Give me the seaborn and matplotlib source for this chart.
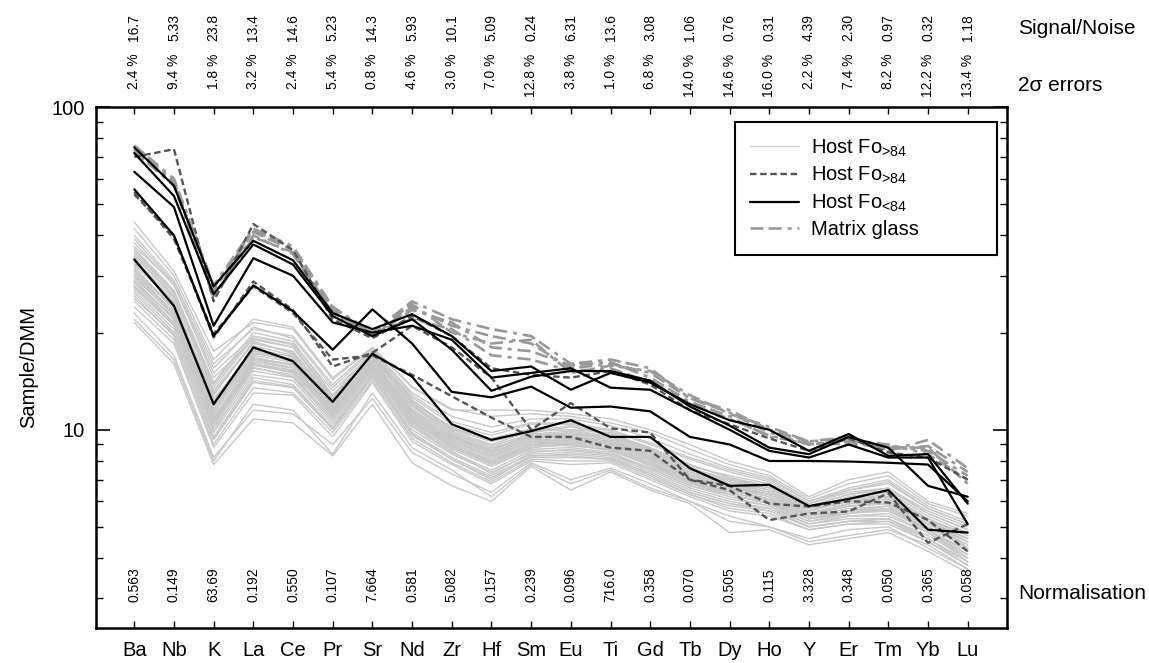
import numpy as np
import pandas as pd
import matplotlib
matplotlib.use("Agg")
import matplotlib.pyplot as plt
import seaborn as sns
from matplotlib.lines import Line2D
from matplotlib.ticker import LogLocator, NullFormatter

# ---- element order and annotation rows ----
elements = ["Ba", "Nb", "K", "La", "Ce", "Pr", "Sr", "Nd", "Zr", "Hf", "Sm",
            "Eu", "Ti", "Gd", "Tb", "Dy", "Ho", "Y", "Er", "Tm", "Yb", "Lu"]
err_2sigma = ["2.4", "9.4", "1.8", "3.2", "2.4", "5.4", "0.8", "4.6", "3.0", "7.0", "12.8",
              "3.8", "1.0", "6.8", "14.0", "14.6", "16.0", "2.2", "7.4", "8.2", "12.2", "13.4"]
signal_noise = ["16.7", "5.33", "23.8", "13.4", "14.6", "5.23", "14.3", "5.93", "10.1", "5.09", "0.24",
                "6.31", "13.6", "3.08", "1.06", "0.76", "0.31", "4.39", "2.30", "0.97", "0.32", "1.18"]
normalisation = ["0.563", "0.149", "63.69", "0.192", "0.550", "0.107", "7.664", "0.581", "5.082",
                 "0.157", "0.239", "0.096", "716.0", "0.358", "0.070", "0.505", "0.115", "3.328",
                 "0.348", "0.050", "0.365", "0.058"]

# ---- DMM-normalised melt inclusion compositions ----
host_fo_high = [
    [44, 31, 17.5, 21.5, 20.5, 14.3, 18, 13.5, 11.5, 11.5, 11.5, 11.2, 10.8, 10.0, 9.0, 8.0, 7.4, 6.2, 7.0, 7.4, 6.0, 5.5],
    [21.5, 16, 7.8, 10.8, 10.5, 8.3, 12, 7.9, 6.7, 6.0, 7.7, 6.5, 7.4, 6.5, 5.9, 4.8, 4.9, 4.4, 4.6, 4.8, 4.2, 3.6],
    [38, 28, 15, 19.5, 18.5, 13.2, 17.2, 12.6, 10.4, 9.6, 10.4, 10.4, 9.9, 9.0, 8.1, 7.4, 6.9, 5.9, 6.4, 6.6, 5.6, 5.0],
    [35, 26, 13, 18.5, 17.5, 12.4, 16.8, 12.0, 9.9, 9.0, 9.9, 10.0, 9.5, 8.6, 7.6, 7.0, 6.6, 5.7, 6.1, 6.3, 5.3, 4.7],
    [33, 25, 12.3, 17.8, 16.8, 12.0, 16.4, 11.6, 9.6, 8.6, 9.6, 9.7, 9.3, 8.4, 7.4, 6.8, 6.4, 5.6, 6.0, 6.1, 5.2, 4.5],
    [31.5, 24, 11.5, 17, 16.2, 11.6, 16.0, 11.2, 9.3, 8.3, 9.3, 9.4, 9.0, 8.1, 7.1, 6.6, 6.2, 5.5, 5.8, 5.9, 5.1, 4.4],
    [30, 22.5, 10.8, 16.2, 15.5, 11.2, 15.6, 10.8, 9.0, 8.0, 9.0, 9.1, 8.8, 7.9, 6.9, 6.4, 6.0, 5.3, 5.6, 5.7, 4.9, 4.2],
    [28.5, 21.5, 10.2, 15.5, 14.8, 10.8, 15.2, 10.4, 8.7, 7.7, 8.7, 8.8, 8.5, 7.6, 6.7, 6.2, 5.8, 5.2, 5.4, 5.5, 4.8, 4.1],
    [27, 20.5, 9.8, 14.8, 14.2, 10.4, 14.8, 10.0, 8.4, 7.4, 8.4, 8.5, 8.3, 7.4, 6.5, 6.0, 5.7, 5.1, 5.3, 5.3, 4.7, 4.0],
    [26, 19.5, 9.3, 14.0, 13.5, 10.0, 14.5, 9.6, 8.1, 7.1, 8.2, 8.2, 8.1, 7.2, 6.3, 5.8, 5.6, 5.0, 5.2, 5.2, 4.6, 3.9],
    [36.5, 27, 14, 20, 18.8, 12.8, 17.5, 12.4, 10.0, 9.4, 10.0, 10.6, 9.6, 8.8, 7.8, 7.1, 6.6, 5.8, 6.3, 6.6, 5.5, 4.9],
    [34, 24.5, 12.8, 18.8, 17.2, 12.2, 16.2, 11.8, 9.7, 8.8, 9.5, 9.8, 9.4, 8.5, 7.5, 6.9, 6.5, 5.6, 6.1, 6.2, 5.3, 4.6],
    [32, 23.5, 11.8, 17.5, 16.5, 11.8, 16.6, 11.4, 9.4, 8.5, 9.4, 9.6, 9.1, 8.2, 7.3, 6.7, 6.3, 5.5, 5.9, 6.0, 5.1, 4.5],
    [30.5, 23, 11.2, 16.8, 15.8, 11.4, 15.9, 11.0, 9.2, 8.2, 9.2, 9.3, 8.9, 8.0, 7.0, 6.5, 6.1, 5.4, 5.7, 5.8, 5.0, 4.3],
    [29, 22, 10.5, 15.8, 15.2, 11.0, 15.4, 10.6, 8.8, 7.8, 8.8, 9.0, 8.6, 7.8, 6.8, 6.3, 5.9, 5.3, 5.5, 5.6, 4.9, 4.2],
    [27.5, 21, 10.0, 15.2, 14.5, 10.6, 15.0, 10.2, 8.5, 7.5, 8.6, 8.6, 8.4, 7.5, 6.6, 6.1, 5.8, 5.1, 5.4, 5.4, 4.8, 4.0],
    [40, 29, 16, 20.5, 19.5, 13.8, 17.8, 13.0, 11.0, 10.2, 10.8, 10.8, 10.3, 9.4, 8.4, 7.6, 7.1, 6.0, 6.6, 7.0, 5.8, 5.2],
    [24, 18.5, 8.8, 13.0, 12.8, 9.5, 14.0, 9.2, 7.8, 6.8, 8.0, 7.8, 7.9, 7.0, 6.2, 5.6, 5.4, 4.9, 5.1, 5.1, 4.5, 3.8],
    [23, 17, 8.2, 11.5, 11.2, 9.0, 12.5, 8.5, 7.3, 6.4, 7.9, 7.0, 7.6, 6.8, 6.0, 5.2, 5.0, 4.6, 4.9, 5.0, 4.3, 3.7],
    [22, 16.5, 8.0, 12, 11.5, 8.4, 13, 8.8, 7.5, 6.2, 7.8, 6.8, 7.5, 6.6, 6.0, 5.4, 5.0, 4.5, 4.7, 4.9, 4.4, 3.7],
    [33.5, 25.5, 12.0, 18.2, 17.0, 11.8, 16.0, 11.0, 9.5, 8.6, 9.8, 9.5, 9.2, 8.3, 7.2, 6.6, 6.3, 5.6, 6.2, 6.4, 5.2, 4.8],
    [31, 23, 10.5, 16.6, 16.0, 11.5, 15.5, 10.9, 9.0, 8.0, 9.0, 9.2, 9.1, 8.1, 7.2, 6.6, 6.0, 5.5, 5.9, 6.1, 5.2, 4.3],
    [29.5, 22.8, 11.0, 16.0, 15.3, 11.0, 15.8, 10.5, 8.9, 7.9, 9.0, 8.9, 8.7, 7.7, 6.8, 6.5, 6.1, 5.3, 5.6, 5.8, 4.9, 4.1],
    [28, 21.2, 10.4, 15.6, 14.6, 10.8, 15.3, 10.3, 8.6, 7.3, 8.5, 8.7, 8.4, 7.6, 6.7, 6.3, 5.9, 5.2, 5.5, 5.7, 4.8, 3.9],
    [37, 28.5, 14.5, 19.0, 18.0, 12.7, 16.9, 12.1, 10.2, 9.2, 10.1, 10.0, 9.8, 8.7, 7.7, 7.2, 6.8, 5.9, 6.5, 6.8, 5.7, 5.1],
    [26.5, 20, 9.5, 14.5, 13.8, 10.2, 14.7, 9.8, 8.2, 7.2, 8.3, 8.4, 8.2, 7.3, 6.4, 5.9, 5.7, 5.0, 5.2, 5.3, 4.6, 3.8],
    [32.5, 24.8, 12.5, 17.2, 16.6, 11.7, 16.5, 11.3, 9.5, 8.5, 9.5, 9.6, 9.2, 8.3, 7.3, 6.8, 6.3, 5.5, 5.9, 6.0, 5.1, 4.6],
    [35.5, 26.5, 13.5, 19.2, 18.0, 12.5, 17.0, 12.2, 10.0, 9.2, 9.8, 10.2, 9.6, 8.7, 7.6, 7.0, 6.7, 5.7, 6.2, 6.4, 5.4, 4.8],
    [42, 30, 16.5, 22, 20.8, 14.5, 18.0, 13.6, 11.6, 11.0, 11.2, 11.0, 10.5, 9.8, 8.7, 7.8, 7.2, 6.1, 6.8, 7.2, 5.9, 5.4],
    [25, 19, 9.0, 13.5, 13.0, 9.8, 14.2, 9.4, 7.9, 6.9, 8.1, 8.0, 8.0, 7.1, 6.3, 5.7, 5.5, 4.9, 5.1, 5.2, 4.5, 3.8],
    [39, 28.5, 15.5, 20.8, 19.2, 13.5, 17.6, 12.8, 10.6, 9.8, 10.5, 10.5, 10.0, 9.1, 8.2, 7.5, 7.0, 6.0, 6.5, 6.9, 5.7, 5.1],
    [34.5, 25.8, 13.2, 18.6, 17.4, 12.3, 16.7, 11.9, 9.8, 8.9, 9.7, 9.9, 9.5, 8.6, 7.5, 7.0, 6.5, 5.7, 6.1, 6.2, 5.3, 4.7],
    [31, 23.8, 11.6, 17.3, 16.4, 11.7, 16.2, 11.3, 9.4, 8.4, 9.4, 9.5, 9.1, 8.2, 7.2, 6.7, 6.3, 5.5, 5.8, 6.0, 5.1, 4.5],
    [29, 22.2, 10.9, 16.4, 15.6, 11.3, 15.7, 10.9, 9.1, 8.1, 9.1, 9.2, 8.8, 7.9, 7.0, 6.5, 6.1, 5.4, 5.6, 5.8, 5.0, 4.3],
    [27.8, 21.4, 10.6, 15.9, 15.0, 11.1, 15.5, 10.7, 8.9, 7.9, 8.9, 9.0, 8.7, 7.8, 6.9, 6.4, 6.0, 5.3, 5.5, 5.7, 4.9, 4.2],
    [33, 24.5, 12.2, 17.6, 16.9, 12.0, 16.3, 11.5, 9.6, 8.7, 9.6, 9.8, 9.3, 8.4, 7.4, 6.9, 6.4, 5.6, 6.0, 6.2, 5.2, 4.6],
    [30, 23.2, 11.3, 16.5, 15.9, 11.5, 15.9, 11.1, 9.2, 8.3, 9.2, 9.3, 9.0, 8.1, 7.1, 6.6, 6.2, 5.4, 5.8, 5.9, 5.0, 4.4],
    [28.8, 22.0, 10.7, 16.0, 15.1, 11.2, 15.6, 10.6, 8.9, 7.8, 8.8, 9.1, 8.6, 7.8, 6.9, 6.3, 5.9, 5.3, 5.6, 5.6, 4.9, 4.0],
    [36, 26.8, 13.8, 19.5, 18.3, 12.6, 17.1, 12.3, 10.1, 9.3, 9.9, 10.3, 9.7, 8.8, 7.8, 7.1, 6.7, 5.8, 6.3, 6.5, 5.5, 4.9],
    [25.5, 19.8, 9.4, 14.2, 13.6, 10.1, 14.6, 9.7, 8.1, 7.0, 8.3, 8.3, 8.1, 7.3, 6.4, 5.9, 5.6, 5.0, 5.2, 5.3, 4.6, 3.9],
]

host_fo_high_he = [
    [70, 74, 25.0, 43.4, 36, 22, 19.2, 22.5, 19.5, 15.5, 14.8, 14.5, 15.2, 13.8, 11.5, 10.4, 9.4, 8.6, 9.4, 8.5, 8.2, 7.0],
    [53.6, 40, 19.3, 28.8, 23.5, 15.7, 17.3, 21.0, 18.0, 14.5, 10.0, 12.1, 10.1, 9.8, 7.0, 6.5, 5.25, 5.5, 5.58, 6.36, 4.46, 5.1],
    [54.5, 39, 19.8, 27.8, 23.0, 16.5, 17.0, 14.8, 12.7, 10.9, 9.5, 9.5, 8.8, 8.6, 7.0, 6.7, 5.9, 5.78, 6.0, 5.95, 5.25, 4.2],
]

host_fo_low = [
    [75, 57, 27.8, 38.5, 33.5, 23, 20.5, 22.8, 19.5, 15.2, 15.7, 13.3, 15.0, 14.0, 12.0, 10.7, 10.0, 8.6, 9.7, 8.3, 8.4, 5.9],
    [72, 53, 26.3, 37.5, 32.5, 22.5, 19.5, 22, 17.7, 13.2, 14.6, 15.2, 15.2, 14.2, 11.8, 10.3, 8.8, 8.4, 9.5, 8.8, 6.7, 6.2],
    [63, 49, 21, 34, 30, 21.5, 20.0, 21, 19.0, 14.5, 15.0, 15.5, 13.5, 13.3, 11.5, 10.0, 8.6, 8.2, 9.0, 8.2, 8.2, 5.1],
    [55.6, 40, 19.5, 28, 23.3, 17.7, 23.6, 18.5, 13.1, 12.6, 13.6, 11.7, 11.8, 11.4, 9.5, 9.0, 8.0, 8.0, 7.97, 7.9, 7.8, 6.0],
    [33.7, 24.2, 12.0, 18.0, 16.3, 12.2, 17.2, 14.6, 10.4, 9.3, 9.9, 10.7, 9.5, 9.5, 7.6, 6.7, 6.75, 5.8, 6.1, 6.5, 4.9, 4.8],
]

matrix_glass = [
    [76, 60, 28, 42, 37, 24, 20, 25, 22, 20.5, 19.5, 16, 16.5, 15.5, 12.5, 11.5, 10.0, 9.2, 9.4, 8.6, 9.3, 7.6],
    [74, 58, 27, 41, 36, 23.5, 19.5, 24, 21, 19.5, 18.5, 15.5, 16, 15, 12.5, 11.3, 9.8, 9.0, 9.2, 8.7, 8.9, 7.4],
    [73, 57, 26, 40, 35, 23, 19.5, 23.5, 21.5, 18, 17.5, 15.8, 16.2, 14.5, 12.2, 11.0, 9.5, 9.1, 9.0, 8.9, 8.6, 7.2],
    [75, 59, 25.5, 39.5, 35.5, 23, 20, 22, 20.5, 17, 16.5, 15.2, 15.5, 14, 12, 10.8, 9.6, 9.0, 9.3, 9.0, 8.4, 7.0],
    [74.5, 58.5, 27.5, 41.5, 36.5, 24, 19.8, 24.5, 20, 18.5, 19, 15, 15.8, 15.2, 12.8, 11.2, 10.2, 9.2, 9.5, 8.8, 8.8, 6.8],
]


def to_long(series, group):
    rows = []
    for k, vals in enumerate(series):
        for i, v in enumerate(vals):
            rows.append({"group": group, "sample": f"{group}-{k}", "pos": i, "value": v})
    return pd.DataFrame(rows)


df = pd.concat([
    to_long(host_fo_high, "fo_high"),
    to_long(matrix_glass, "glass"),
    to_long(host_fo_high_he, "fo_high_he"),
    to_long(host_fo_low, "fo_low"),
], ignore_index=True)

sns.set_theme(style="white")
plt.rcParams["font.family"] = ["Liberation Sans", "DejaVu Sans"]
plt.rcParams["mathtext.fontset"] = "custom"
plt.rcParams["mathtext.rm"] = "Liberation Sans"
plt.rcParams["mathtext.default"] = "regular"
plt.rcParams["lines.scale_dashes"] = False
for key in ("text.color", "axes.labelcolor", "xtick.color", "ytick.color"):
    plt.rcParams[key] = "black"

W, H = 1149, 663
fig = plt.figure(figsize=(W / 100, H / 100), dpi=100)
ax = fig.add_axes([96 / W, 35 / H, 911 / W, 521 / H])

c_light, c_dark, c_glass = "#c8c8c8", "#555555", "#999999"
dash_he = (0, (4.7, 2.6))
dash_glass = (0, (9.4, 3.6, 9.4, 4.3, 2.9, 4.3))

styles = {
    "fo_high": dict(color=c_light, lw=1.0, linestyle="-"),
    "glass": dict(color=c_glass, lw=1.9, linestyle=dash_glass),
    "fo_high_he": dict(color=c_dark, lw=1.7, linestyle=dash_he),
    "fo_low": dict(color="black", lw=1.6, linestyle="-"),
}
for grp, kw in styles.items():
    sns.lineplot(data=df[df["group"] == grp], x="pos", y="value", units="sample",
                 estimator=None, sort=False, legend=False, ax=ax, **kw)

ax.set_yscale("log")
ax.set_ylim(2.43, 100)
ax.set_xlim(-0.964, 21.99)

ax.set_xticks(range(len(elements)))
ax.set_xticklabels(elements, fontsize=14.5)
ax.set_xlabel("")
ax.tick_params(axis="x", which="major", direction="in", length=5, width=1,
               top=True, bottom=True, pad=9)
ax.set_yticks([10, 100])
ax.set_yticklabels(["10", "100"], fontsize=14.5)
ax.yaxis.set_minor_locator(LogLocator(base=10, subs=np.arange(2, 10)))
ax.yaxis.set_minor_formatter(NullFormatter())
ax.tick_params(axis="y", which="major", direction="in", length=10, width=1.2,
               left=True, right=True, pad=8)
ax.tick_params(axis="y", which="minor", direction="in", length=5, width=1,
               left=True, right=True)
for s in ax.spines.values():
    s.set_color("black")
    s.set_linewidth(1.8)

ax.set_ylabel("Sample/DMM", fontsize=14.5)
ax.yaxis.set_label_coords(-0.064, 0.5)

# per-element annotations above and inside the frame
xt = ax.get_xaxis_transform()
for i in range(len(elements)):
    ax.text(i, 1.1785, signal_noise[i], transform=xt, rotation=90,
            ha="center", va="top", fontsize=10, clip_on=False)
    ax.text(i, 1.1025, f"{err_2sigma[i]} %", transform=xt, rotation=90,
            ha="center", va="top", fontsize=10, clip_on=False)
    ax.text(i, 0.05, normalisation[i], transform=xt, rotation=90,
            ha="center", va="bottom", fontsize=10, clip_on=False)

ax.text(1.012, 1.1516, "Signal/Noise", transform=ax.transAxes, fontsize=15,
        ha="left", va="center", clip_on=False)
ax.text(1.012, 1.042, "2\u03c3 errors", transform=ax.transAxes, fontsize=15,
        ha="left", va="center", clip_on=False)
ax.text(1.012, 0.067, "Normalisation", transform=ax.transAxes, fontsize=15,
        ha="left", va="center", clip_on=False)

handles = [
    Line2D([], [], color="#cfcfcf", lw=1.0),
    Line2D([], [], color=c_dark, lw=1.7, linestyle=dash_he),
    Line2D([], [], color="black", lw=1.6),
    Line2D([], [], color=c_glass, lw=1.9, linestyle=dash_glass),
]
labels = [r"Host Fo$_{\text{>84}}$", r"Host Fo$_{\text{>84}}$",
          r"Host Fo$_{\text{<84}}$", "Matrix glass"]
leg = ax.legend(handles, labels, loc="upper left", bbox_to_anchor=(0.701, 0.72, 0.288, 0.251),
                mode="expand", borderaxespad=0, fontsize=14.5, frameon=True, fancybox=False,
                edgecolor="black", framealpha=1, borderpad=0.75, labelspacing=0.32,
                handlelength=2.45, handletextpad=0.6)
leg.get_frame().set_linewidth(1.5)
ax.text(0.921, 0.856, "H.E.", transform=ax.transAxes, fontsize=14.5,
        ha="left", va="center")

fig.savefig("out.png", dpi=100)
